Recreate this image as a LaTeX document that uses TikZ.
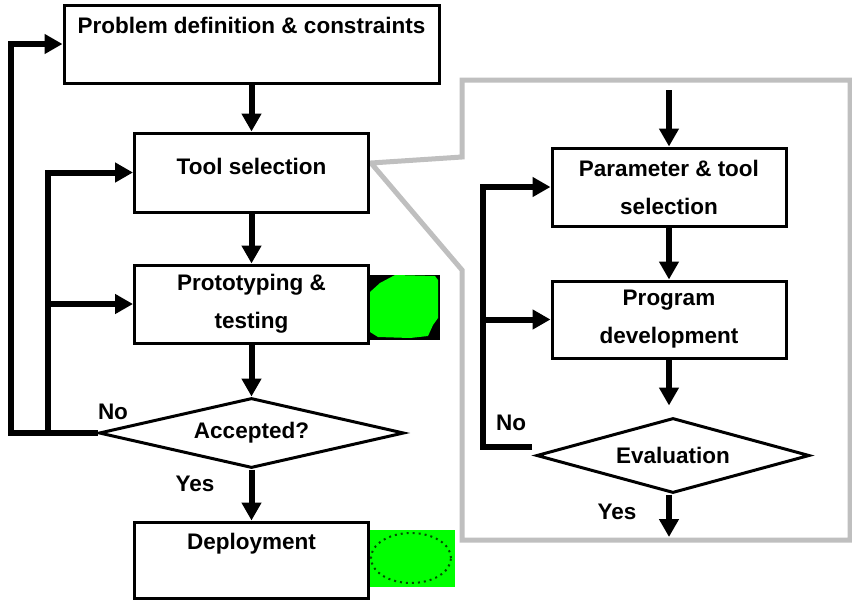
\documentclass[tikz,border=0pt]{standalone}
\usepackage{fontspec}
\setmainfont{Liberation Sans}
\usetikzlibrary{arrows.meta,shapes.geometric,calc}

\begin{document}
\begin{tikzpicture}[
  x=1pt,y=-1pt,
  font=\fontsize{22.5}{38}\selectfont\bfseries,
  proc/.style={draw=black,line width=3pt,fill=white,minimum width=234pt,minimum height=78pt,align=center,inner sep=0pt},
  dec/.style={draw=black,line width=3pt,fill=white,diamond,aspect=4.4,inner sep=0pt},
  ln/.style={draw=black,line width=6pt},
  arr/.style={ln,-{Triangle[width=19pt,length=18pt]}},
  lbl/.style={inner sep=0pt},
  callout/.style={draw=black!25,line width=5pt}
]
\useasboundingbox (0,0) rectangle (852,600);

% zoom callout
\draw[callout] (371,163) -- (462,157) -- (462,80) -- (850,80) -- (850,540) -- (462,540) -- (462,270) -- cycle;

% pasted pictures
\fill[black] (368,275) rectangle (440,340);
\fill[green] (370,292) -- (380,283) -- (395,275) -- (435,276) -- (438,280) -- (438,318) -- (433,325) -- (428,336) -- (410,338) -- (378,337) -- (370,332) -- cycle;
\fill[green] (369,530) rectangle (455,587);
\draw[green!30!black,line width=2pt,dash pattern=on 2pt off 4pt] (411,558) ellipse [x radius=40pt,y radius=25pt];

% main flow
\node[proc,minimum width=375pt] (prob) at (251.5,44) {Problem definition \& constraints\\ \mbox{}};
\node[proc,minimum height=79pt,text depth=12pt] (tool) at (251.5,172.5) {Tool selection};
\node[proc] (proto) at (251.5,304) {Prototyping \&\\ testing};
\node[dec,minimum width=305pt,minimum height=70pt] (acc) at (251.5,433) {Accepted?};
\node[proc,minimum height=76pt] (deploy) at (251.5,560) {Deployment\\ \mbox{}};

% detail flow
\node[proc] (param) at (669,187) {Parameter \& tool\\ selection};
\node[proc,minimum height=77pt] (prog) at (669,319.5) {Program\\ development};
\node[dec,minimum width=273pt,minimum height=75pt] (eval) at (673,455.5) {Evaluation};

\node[lbl] (no1) at (113,412) {No};
\node[lbl] (yes1) at (195,484) {Yes};
\node[lbl] (no2) at (511,423) {No};
\node[lbl] (yes2) at (617,512) {Yes};

\coordinate (outer) at (11,0);
\coordinate (inner) at (48,0);
\coordinate (rin) at (483,0);
\coordinate (ptop) at (669,90);
\coordinate (pend) at (669,537);
\coordinate (nofb) at ([shift={(-3,-9)}]eval.west);

\draw[arr] (prob) -- (tool);
\draw[arr] (tool) -- (proto);
\draw[arr] (proto) -- (acc);
\draw[arr] (acc) -- (deploy);
\draw[arr] (acc.west) -- (outer |- acc.west) |- (prob.west);
\draw[arr] (inner |- acc.west) |- (tool.west);
\draw[arr] (inner |- proto.west) -- (proto.west);

\draw[arr] (ptop) -- (param);
\draw[arr] (param) -- (prog);
\draw[arr,shorten >=11pt] (prog.south) -- (prog.south |- eval.north);
\draw[arr] (prog.south |- eval.south) -- (pend);
\draw[arr] (nofb) -- (rin |- nofb) |- (param.west);
\draw[arr] (rin |- prog.west) -- (prog.west);
\end{tikzpicture}
\end{document}
